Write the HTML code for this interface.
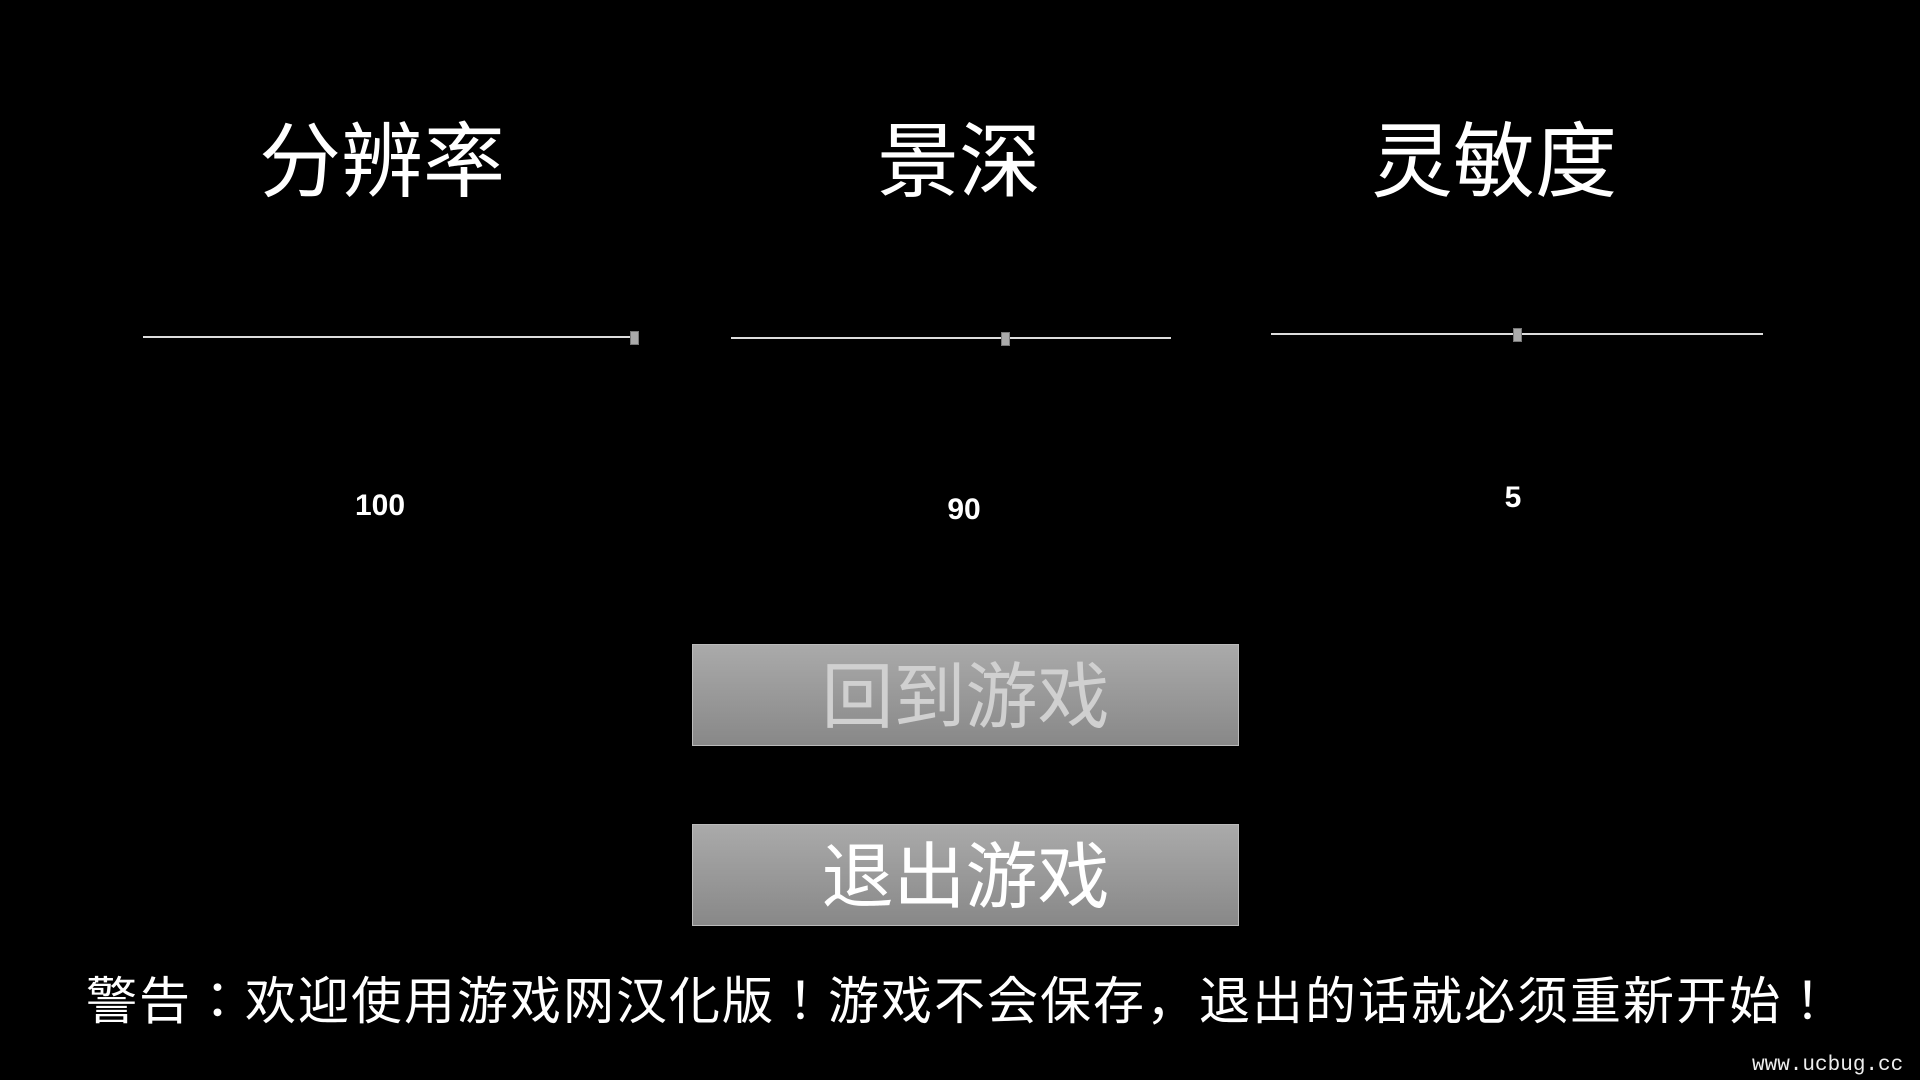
<!DOCTYPE html>
<html><head><meta charset="utf-8"><style>
html,body{margin:0;padding:0;background:#000;width:1920px;height:1080px;overflow:hidden;position:relative;font-family:"Liberation Sans","Noto Sans CJK SC",sans-serif;color:#fff}
.t{position:absolute;font-size:82px;line-height:1;transform:translateX(-50%);white-space:nowrap}
.line{position:absolute;height:2px;background:#ddd}
.th{position:absolute;width:7px;height:12px;background:#aaa;border:1px solid #777}
.n{position:absolute;font-size:30px;font-weight:bold;transform:translate(-50%,-50%)}
.btn{position:absolute;left:692px;width:547px;height:102px;background:linear-gradient(#aaa,#888);border:1px solid #bbb;box-sizing:border-box;display:flex;align-items:center;justify-content:center;font-size:72px;padding-bottom:10px}
</style></head><body>
<div class="t" style="left:382px;top:122px">分辨率</div>
<div class="t" style="left:959px;top:122px">景深</div>
<div class="t" style="left:1494px;top:122px">灵敏度</div>
<div class="line" style="left:143px;top:336px;width:496px"></div>
<div class="th" style="left:630px;top:331px"></div>
<div class="line" style="left:731px;top:337px;width:440px"></div>
<div class="th" style="left:1001px;top:332px"></div>
<div class="line" style="left:1271px;top:333px;width:492px"></div>
<div class="th" style="left:1513px;top:328px"></div>
<div class="n" style="left:380px;top:506px">100</div>
<div class="n" style="left:964px;top:510px">90</div>
<div class="n" style="left:1513px;top:498px">5</div>
<div class="btn" style="top:644px;color:#d0d0d0">回到游戏</div>
<div class="btn" style="top:824px;color:#fff">退出游戏</div>
<div style="position:absolute;left:86px;top:970px;font-size:51px;line-height:64px;letter-spacing:2.0px;white-space:nowrap;font-family:'Liberation Sans','Noto Sans CJK JP',sans-serif">警告：欢迎使用游戏网汉化版！游戏不会保存，退出的话就必须重新开始！</div>
<div style="position:absolute;left:1752px;top:1054px;font-size:21px;font-family:'Liberation Mono',monospace;color:#eee;white-space:nowrap">www.ucbug.cc</div>
</body></html>
